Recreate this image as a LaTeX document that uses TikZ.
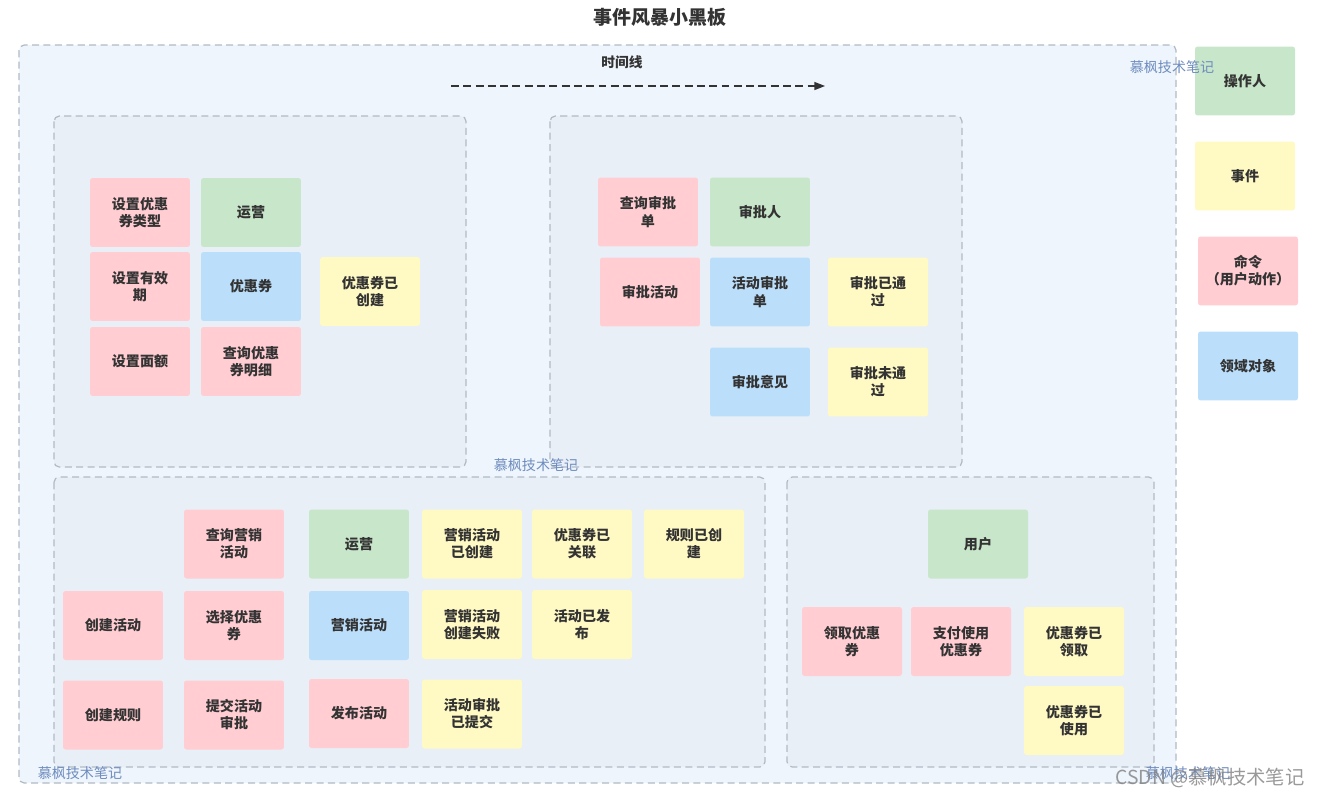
\documentclass[tikz,border=0pt]{standalone}
\usepackage{fontspec}
\setmainfont{Noto Sans CJK SC}
\usetikzlibrary{arrows.meta}
\definecolor{cmdpink}{RGB}{255,205,210}
\definecolor{evtyellow}{RGB}{255,249,196}
\definecolor{actgreen}{RGB}{200,230,201}
\definecolor{objblue}{RGB}{187,222,251}
\definecolor{boardfill}{RGB}{238,245,252}
\definecolor{groupfill}{RGB}{232,239,247}
\definecolor{framegray}{RGB}{178,186,196}
\definecolor{markblue}{RGB}{110,140,190}
\definecolor{inkgray}{RGB}{51,51,51}

\begin{document}
\begin{tikzpicture}[x=0.02cm,y=-0.02cm,
    note/.style={rounded corners=1.5pt, minimum width=2cm, minimum height=1.38cm,
      align=center, text=inkgray, inner sep=1pt,
      font=\fontsize{8}{9.7}\selectfont\bfseries},
    cmdnote/.style={note, fill=cmdpink},
    evtnote/.style={note, fill=evtyellow},
    actnote/.style={note, fill=actgreen},
    objnote/.style={note, fill=objblue},
    board/.style={draw=framegray, fill=boardfill, line width=0.7pt,
      dash pattern=on 4pt off 2.5pt, rounded corners=3pt},
    groupbox/.style={draw=framegray, fill=groupfill, line width=0.7pt,
      dash pattern=on 4pt off 2.5pt, rounded corners=3pt},
    wmark/.style={text=markblue, font=\fontsize{8}{9}\selectfont},
  ]
  \useasboundingbox (0,0) rectangle (1322,798);

  % title and board
  \node[font=\fontsize{10.8}{12}\selectfont\bfseries, text=inkgray] (title) at (660,17) {事件风暴小黑板};
  \draw[board] (19,45) rectangle (1176,783);

  % time line
  \node[font=\fontsize{7.8}{9}\selectfont\bfseries, text=inkgray] (timelabel) at (622,62) {时间线};
  \coordinate (tstart) at (451,86);
  \coordinate (tend) at (825,86);
  \draw[inkgray, line width=0.8pt, dash pattern=on 4.5pt off 2.5pt,
    -{Triangle[length=6pt,width=4.5pt]}] (tstart) -- (tend);

  % groups
  \draw[groupbox] (54,116) rectangle (466,467);
  \draw[groupbox] (550,116) rectangle (962,467);
  \draw[groupbox] (54,477) rectangle (765,767);
  \draw[groupbox] (787,477) rectangle (1154,767);

  % coupon setup
  \node[cmdnote] (settype) at (140,212.5) {设置优惠\\券类型};
  \node[actnote] (ops) at (251,212.5) {运营};
  \node[cmdnote] (setexpiry) at (140,286.5) {设置有效\\期};
  \node[objnote] (coupon) at (251,286.5) {优惠券};
  \node[evtnote] (couponmade) at (370,291.5) {优惠券已\\创建};
  \node[cmdnote] (setvalue) at (140,361.5) {设置面额};
  \node[cmdnote] (querycoupon) at (251,361.5) {查询优惠\\券明细};

  % approval
  \node[cmdnote] (queryform) at (648,212) {查询审批\\单};
  \node[actnote] (approver) at (760,212) {审批人};
  \node[cmdnote] (approve) at (650,292) {审批活动};
  \node[objnote] (form) at (760,292) {活动审批\\单};
  \node[evtnote] (passed) at (878,292) {审批已通\\过};
  \node[objnote] (opinion) at (760,382) {审批意见};
  \node[evtnote] (rejected) at (878,382) {审批未通\\过};

  % campaign
  \node[cmdnote] (querycamp) at (234,544) {查询营销\\活动};
  \node[actnote] (ops2) at (359,544) {运营};
  \node[evtnote] (campmade) at (472,544) {营销活动\\已创建};
  \node[evtnote] (linked) at (582,544) {优惠券已\\关联};
  \node[evtnote] (rulemade) at (694,544) {规则已创\\建};
  \node[cmdnote] (newcamp) at (113,625.5) {创建活动};
  \node[cmdnote] (pickcoupon) at (234,625.5) {选择优惠\\券};
  \node[objnote] (campaign) at (359,625.5) {营销活动};
  \node[evtnote] (campfail) at (472,624.5) {营销活动\\创建失败};
  \node[evtnote] (published) at (582,624.5) {活动已发\\布};
  \node[cmdnote] (newrule) at (113,715) {创建规则};
  \node[cmdnote] (submit) at (234,715) {提交活动\\审批};
  \node[cmdnote] (publish) at (359,713.5) {发布活动};
  \node[evtnote] (submitted) at (472,714) {活动审批\\已提交};

  % user
  \node[actnote] (user) at (978,544) {用户};
  \node[cmdnote] (claim) at (852,641.5) {领取优惠\\券};
  \node[cmdnote] (pay) at (961,641.5) {支付使用\\优惠券};
  \node[evtnote] (claimed) at (1074,641.5) {优惠券已\\领取};
  \node[evtnote] (used) at (1074,720.5) {优惠券已\\使用};

  % legend
  \node[actnote] (keyactor) at (1245,81) {操作人};
  \node[evtnote] (keyevent) at (1245,176) {事件};
  \node[cmdnote] (keycmd) at (1248,271) {命令\\（用户动作）};
  \node[objnote] (keyobj) at (1248,366) {领域对象};

  % watermarks
  \node[wmark] (mark1) at (1172,67) {慕枫技术笔记};
  \node[wmark] (mark2) at (536,465) {慕枫技术笔记};
  \node[wmark] (mark3) at (80,773) {慕枫技术笔记};
  \node[wmark] (mark4) at (1188,773) {慕枫技术笔记};
  \node[text=gray, opacity=0.8, font=\fontsize{11}{12}\selectfont] (csdn) at (1210,778) {CSDN @慕枫技术笔记};
\end{tikzpicture}
\end{document}
